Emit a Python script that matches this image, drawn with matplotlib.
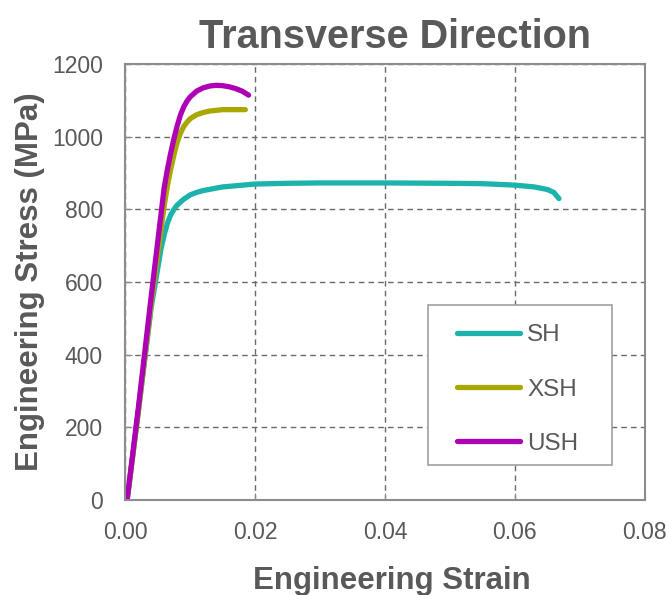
import matplotlib
matplotlib.use("Agg")
import matplotlib.pyplot as plt
from matplotlib.patches import Rectangle

# strain / stress
sh_strain = [0.0003, 0.002, 0.004, 0.0055, 0.006, 0.0065, 0.007, 0.0075, 0.008, 0.009,
             0.010, 0.011, 0.012, 0.015, 0.020, 0.025, 0.030, 0.040, 0.050, 0.055,
             0.060, 0.063, 0.065, 0.066, 0.0668]
sh_stress = [0, 240, 530, 690, 730, 762, 785, 800, 812, 828,
             840, 847, 852, 862, 870, 872, 873, 873, 872, 871,
             867, 862, 855, 847, 830]

xsh_strain = [0.0003, 0.002, 0.004, 0.006, 0.0065, 0.007, 0.0075, 0.008, 0.0085, 0.009,
              0.0095, 0.010, 0.011, 0.012, 0.013, 0.014, 0.015, 0.016, 0.017, 0.0185]
xsh_stress = [0, 240, 540, 810, 865, 910, 950, 985, 1010, 1028,
              1040, 1050, 1061, 1067, 1071, 1073, 1075, 1075, 1075, 1075]

ush_strain = [0.0003, 0.002, 0.004, 0.006, 0.0065, 0.007, 0.0075, 0.008, 0.0085, 0.009,
              0.0095, 0.010, 0.011, 0.012, 0.013, 0.014, 0.015, 0.016, 0.017, 0.018, 0.019]
ush_stress = [0, 250, 560, 860, 910, 955, 995, 1030, 1060, 1082,
              1098, 1110, 1126, 1135, 1140, 1142, 1141, 1138, 1133, 1126, 1115]

labels = ["SH", "XSH", "USH"]
colors = ["#1BB3AC", "#A8A800", "#AE00B4"]

gray = "#595959"
font = "Liberation Sans"

fig = plt.figure(figsize=(6.66, 5.95), dpi=100)
ax = fig.add_axes([0.188, 0.160, 0.780, 0.732])

for xs, ys, lab, c in zip([sh_strain, xsh_strain, ush_strain],
                          [sh_stress, xsh_stress, ush_stress], labels, colors):
    ax.plot(xs, ys, color=c, lw=3.8, label=lab, solid_capstyle="round")

ax.set_xlim(0, 0.08)
ax.set_ylim(0, 1200)
ax.set_xticks([0, 0.02, 0.04, 0.06, 0.08])
ax.set_xticklabels(["0.00", "0.02", "0.04", "0.06", "0.08"])
ax.set_yticks(range(0, 1201, 200))

ax.grid(True, color="#6a6a6a", linestyle=(0, (4, 3)), linewidth=1.0)
ax.set_axisbelow(True)
for s in ax.spines.values():
    s.set_color("#8c8c8c")
    s.set_linewidth(1.5)
ax.tick_params(direction="in", length=5, color="#8c8c8c", labelsize=16.5,
               labelcolor=gray)
ax.tick_params(axis="y", pad=16)
ax.tick_params(axis="x", pad=15)

for t in ax.get_xticklabels() + ax.get_yticklabels():
    t.set_family(font)

ax.set_title("Transverse Direction", fontsize=28.5, fontweight="bold", color=gray,
             family=font, pad=12, x=0.519)
ax.set_xlabel("Engineering Strain", fontsize=22.5, fontweight="bold", color=gray,
              family=font, labelpad=16, x=0.513)
ax.set_ylabel("Engineering Stress (MPa)", fontsize=22.5, fontweight="bold", color=gray,
              family=font, labelpad=5)

# legend box drawn by hand, entries placed frameless inside it
box = Rectangle((0.583, 0.08), 0.355, 0.367, transform=ax.transAxes,
                facecolor="white", edgecolor="#a0a0a0", linewidth=1.2, zorder=4)
ax.add_patch(box)
leg = ax.legend(loc="upper left", bbox_to_anchor=(0.638, 0.403), frameon=False,
                handlelength=2.6, labelspacing=1.33, borderpad=0,
                handletextpad=0.3, borderaxespad=0,
                prop={"family": font, "size": 17.5})
leg.set_zorder(5)
for t in leg.get_texts():
    t.set_color(gray)

fig.savefig("out.png", dpi=100)
